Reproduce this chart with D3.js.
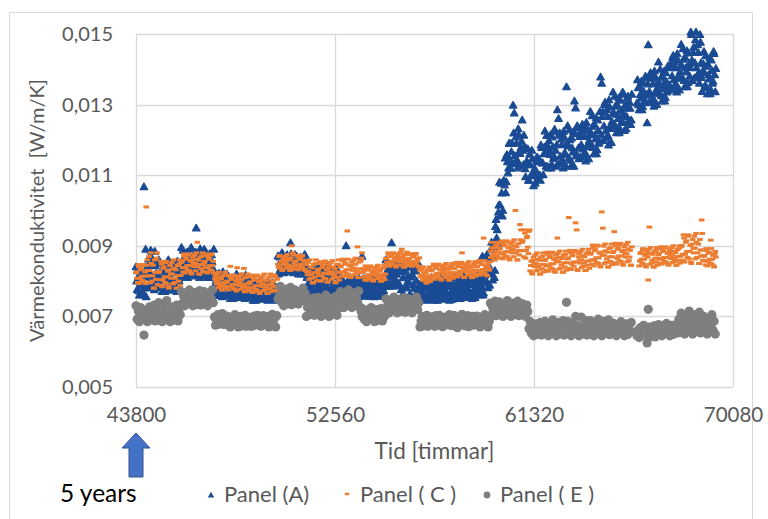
<!DOCTYPE html>
<html><head><meta charset="utf-8">
<script src="https://cdn.jsdelivr.net/npm/d3@7"></script>
<style>
html,body{margin:0;padding:0;background:#fff;}
svg text{font-family:Lato,"Open Sans",sans-serif;}
</style></head>
<body><svg id="c" width="768" height="519"></svg>
<script>
// Time axis: readings every 50 hours starting at 43800 h (each row = 1000 h).
// The "..._B" arrays hold the readings taken 25 h after those of the main arrays.
const startHour = 43800;
const stepHours = 50;
const offsetB = 25;
const xTicks = [43800, 52560, 61320, 70080];
const yTicks = [0.005, 0.007, 0.009, 0.011, 0.013, 0.015];
const seriesNames = ["Panel (A)", "Panel ( C )", "Panel ( E )"];

// thermal conductivity values in 10^-5 W/m/K
const panelA = [
840,776,812,760,796,828,768,1067,812,755,781,862,825,887,794,850,775,843,805,817,
860,788,828,770,810,846,779,819,797,855,774,833,806,851,783,824,770,842,801,815,
895,827,865,810,848,882,818,857,835,891,814,869,844,950,823,861,810,878,840,852,
890,826,862,810,846,878,818,854,834,826,759,807,785,822,766,800,755,815,781,792,
820,764,795,750,781,809,757,788,771,816,753,799,778,813,760,792,750,806,774,785,
800,756,781,745,770,792,750,775,761,797,748,783,767,794,753,778,745,789,764,772,
795,755,777,745,767,871,826,853,838,877,823,862,844,874,829,856,908,868,841,850,
875,831,856,820,845,867,825,850,836,872,769,817,795,832,776,810,765,825,791,802,
838,782,811,767,801,826,770,808,785,834,771,814,797,830,774,812,767,822,793,800,
810,766,791,755,780,900,760,785,771,807,758,793,777,804,763,788,755,799,774,870,
807,768,789,757,783,800,758,787,769,810,755,795,775,802,766,786,757,797,772,785,
860,800,834,785,819,908,792,826,807,856,789,837,786,843,757,809,740,832,780,797,
850,762,811,740,789,833,751,800,773,844,748,787,769,799,754,781,745,793,766,775,
810,758,787,745,774,800,751,781,764,807,748,790,771,803,755,784,745,797,768,777,
815,763,792,750,779,805,756,786,769,812,753,795,776,808,760,789,750,802,773,782,
820,772,799,760,787,870,766,816,802,875,781,862,829,910,803,870,830,974,945,995,
1080,986,1049,1000,1084,1148,1081,1138,1120,1190,1119,1190,1298,1276,1138,1190,1120,1214,1161,1178,
1256,1129,1178,1095,1140,1174,1085,1129,1098,1146,1070,1119,1103,1151,1092,1140,1085,1178,1135,1160,
1225,1125,1185,1120,1170,1214,1131,1180,1153,1224,1125,1285,1260,1219,1136,1186,1120,1208,1158,1350,
1240,1148,1200,1125,1177,1223,1310,1290,1160,1234,1146,1221,1186,1244,1157,1209,1140,1232,1180,1198,
1280,1184,1238,1160,1214,1262,1172,1226,1196,1378,1360,1279,1239,1306,1205,1266,1185,1293,1232,1252,
1335,1243,1295,1220,1272,1318,1231,1283,1254,1329,1226,1300,1266,1323,1250,1289,1256,null,null,null,
null,1304,1347,1285,1328,1366,1294,1337,1313,1375,1248,1469,1337,1390,1311,1358,1295,1379,1332,1347,
1420,1330,1375,1310,1355,1395,1320,1365,1340,1405,1341,1416,1381,1439,1352,1404,1335,1427,1375,1393,
1470,1374,1428,1350,1404,1452,1362,1416,1404,1498,1367,1462,1418,1505,1382,1447,1360,1476,1376,1395,
1450,1354,1408,1330,1384,1432,1342,1396,1366,1444,1336];

const panelA_B = [
800,832,772,816,788,760,824,780,890,827,844,787,873,810,861,798,884,821,781,850,
815,851,784,833,802,770,842,793,860,811,824,779,847,797,838,788,856,806,775,829,
852,887,823,870,840,810,878,831,895,848,861,818,882,836,874,827,891,844,814,865,
850,882,822,866,838,810,874,830,890,789,800,763,819,778,811,770,826,785,759,804,
785,813,761,799,775,750,806,768,820,782,792,757,810,771,803,764,817,778,754,796,
772,795,753,784,764,745,789,759,800,770,778,751,792,762,786,756,797,767,748,781,
770,790,753,780,763,820,868,835,880,847,856,826,871,838,865,832,877,844,823,859,
848,870,828,859,839,820,864,834,875,845,810,773,829,788,821,780,836,795,769,814,
803,833,776,818,791,765,825,784,840,799,810,773,829,788,821,780,836,795,769,814,
783,805,763,794,774,755,799,769,810,780,788,761,802,772,796,766,807,777,758,791,
781,807,761,792,776,757,801,767,808,782,786,759,804,770,798,764,809,775,756,793,
823,853,796,838,811,785,845,804,860,819,830,793,838,775,826,763,849,786,746,815,
795,839,757,817,779,740,828,768,850,790,781,751,796,763,790,757,802,769,748,784,
778,804,755,791,768,745,797,761,810,774,784,752,800,765,794,758,807,771,748,787,
783,809,760,796,773,750,802,766,815,779,789,757,805,770,799,763,812,776,753,792,
790,814,769,802,781,760,808,794,865,822,844,788,890,820,896,810,954,922,907,1015,
1015,1077,984,1084,1072,1050,1158,1106,1190,1143,1166,1132,1219,1155,1208,1143,1231,1167,1126,1196,
1170,1213,1118,1176,1129,1085,1159,1098,1170,1104,1108,1077,1138,1101,1147,1100,1185,1134,1101,1179,
1162,1212,1124,1197,1158,1120,1208,1147,1230,1170,1186,1131,1213,1153,1202,1142,1224,1164,1125,1191,
1182,1228,1142,1205,1165,1125,1217,1154,1240,1177,1209,1151,1238,1174,1226,1163,1249,1186,1146,1215,
1220,1268,1178,1244,1202,1160,1256,1190,1280,1214,1266,1198,1300,1225,1286,1212,1313,1239,1192,1273,
1277,1323,1237,1300,1260,1220,1312,1249,1335,1272,1289,1231,1318,1254,1306,1243,1329,null,null,null,
null,1370,1299,1351,1318,1285,1361,1309,1380,1328,1358,1305,1384,1326,1374,1316,1395,1337,1300,1363,
1360,1400,1325,1380,1345,1310,1390,1335,1410,1355,1404,1346,1433,1370,1421,1358,1444,1381,1341,1410,
1410,1458,1368,1434,1392,1350,1446,1380,1505,1425,1447,1375,1483,1404,1469,1389,1498,1418,1337,1415,
1390,1438,1348,1414,1372,1330,1426,1360,1450,1384,1402];

const panelC = [
823,808,847,793,832,814,844,799,826,1010,860,815,830,880,800,845,780,825,865,790,
824,804,856,784,836,812,852,792,828,780,844,808,820,860,796,832,780,816,848,788,
853,838,877,823,862,844,874,829,856,820,868,841,850,880,910,859,820,847,871,826,
853,838,877,823,862,844,874,829,856,775,815,792,800,825,785,807,775,797,817,780,
797,785,817,842,805,790,815,777,800,838,810,787,795,820,780,836,770,792,812,775,
795,781,817,768,803,787,814,773,798,765,809,784,792,820,776,801,765,790,812,770,
797,785,817,772,805,848,870,837,857,830,866,846,852,875,839,859,830,900,880,834,
855,843,873,832,861,848,870,837,857,830,847,818,827,860,808,837,795,824,850,801,
829,816,855,800,838,823,851,807,832,797,845,820,825,858,810,835,797,826,848,803,
840,826,862,813,848,832,942,818,843,810,854,829,837,865,821,897,810,835,857,880,
825,813,843,802,831,818,840,807,827,800,836,816,822,845,809,829,800,820,838,804,
863,853,880,842,869,857,878,846,865,840,874,855,861,882,890,867,840,859,876,844,
862,852,878,842,868,856,876,846,864,840,831,811,817,840,804,824,795,815,833,799,
829,817,848,805,836,822,845,810,831,803,841,819,826,850,812,833,803,824,843,808,
835,823,853,812,841,828,850,880,837,810,846,826,832,855,819,839,810,830,848,814,
840,829,858,817,847,833,922,822,842,815,851,831,885,910,870,893,860,883,903,865,
891,877,914,863,900,883,911,869,894,860,906,880,889,917,1000,897,860,886,960,945,
910,887,945,865,923,896,941,829,856,820,868,841,850,880,832,859,820,847,871,826,
858,843,882,828,867,849,879,834,861,825,873,922,855,885,837,864,825,852,876,831,
863,980,887,833,872,854,884,965,945,830,878,851,860,890,842,869,830,857,881,836,
876,860,902,843,886,866,899,850,879,840,996,950,873,905,853,882,840,869,895,847,
881,940,907,848,890,871,903,855,884,845,897,868,877,910,858,887,845,null,null,null,
null,null,null,843,878,862,889,848,873,840,884,803,953,895,851,876,840,865,887,845,
875,862,897,848,884,867,895,853,878,845,889,864,873,900,856,881,845,870,892,851,
897,876,931,854,910,884,927,863,901,850,918,880,893,935,867,905,850,888,973,859,
870,857,892,843,879,862,916,848,873,840,884];

const panelC_B = [
826,796,841,808,835,802,847,814,793,845,830,870,795,850,815,780,860,805,880,825,
828,788,848,804,840,796,856,812,784,832,820,852,792,836,808,780,844,800,860,816,
856,826,871,838,865,832,877,844,823,859,850,874,829,862,841,820,868,835,880,847,
856,826,871,838,865,832,877,844,823,807,800,820,782,810,792,775,815,787,825,797,
800,775,812,785,807,780,817,790,772,802,795,815,777,805,787,770,810,782,820,792,
798,770,812,781,806,776,817,787,768,801,792,814,773,803,784,765,809,779,820,790,
800,775,812,785,807,839,873,848,832,859,852,870,837,861,846,830,866,841,875,850,
857,834,868,843,864,839,873,848,832,859,827,853,805,840,818,795,847,811,860,824,
834,801,850,815,844,808,857,821,798,837,827,853,805,840,818,795,847,811,860,824,
843,815,857,826,851,821,862,832,813,846,837,859,818,848,829,810,854,824,865,835,
827,804,838,813,834,809,843,818,802,829,822,840,807,831,816,800,836,811,845,820,
865,844,876,853,871,848,880,857,842,867,861,878,846,869,855,840,874,850,882,859,
864,844,874,852,870,848,878,856,842,866,817,835,802,826,811,795,831,806,840,815,
831,808,843,817,838,812,848,822,805,834,826,845,810,836,819,803,841,815,850,824,
837,814,848,823,844,819,853,828,812,839,832,850,817,841,826,810,846,821,855,830,
842,819,853,828,849,824,858,833,817,844,837,855,867,895,877,860,900,872,910,882,
894,866,908,877,903,871,914,883,863,897,888,911,869,900,880,860,906,874,917,886,
914,869,936,887,927,878,945,844,823,859,850,874,829,862,841,820,868,835,880,847,
861,831,876,843,870,837,882,849,828,864,855,879,834,867,846,825,873,840,885,852,
866,836,881,848,875,842,887,854,833,869,860,884,839,872,851,830,878,845,890,857,
879,847,895,860,889,853,902,866,843,882,873,899,850,886,863,840,892,856,905,869,
884,852,900,865,894,858,907,871,848,887,878,904,855,891,868,845,897,null,null,null,
null,null,null,857,881,851,892,862,843,876,868,890,848,879,859,840,884,854,895,865,
878,851,892,862,886,856,897,867,848,881,873,895,853,884,864,845,889,859,900,870,
901,859,922,876,914,867,931,884,854,905,893,927,863,910,880,850,918,871,935,888,
873,846,887,857,881,851,892,862,843,876,868];

const panelE = [
730,692,715,685,725,702,710,647,695,717,685,707,727,690,712,700,732,687,720,705,
739,694,721,685,733,706,715,745,697,717,685,707,727,690,712,700,732,687,720,705,
770,737,757,730,766,746,752,775,739,759,730,750,768,734,755,743,773,732,761,748,
770,737,757,730,766,746,752,775,739,698,675,691,705,678,694,685,708,677,699,689,
701,675,691,670,698,682,687,705,677,693,670,686,700,673,689,680,703,672,694,684,
697,672,694,673,701,680,690,703,675,688,672,684,702,676,686,682,700,670,691,687,
706,676,694,670,702,749,757,785,741,766,730,755,777,735,760,746,782,733,768,752,
775,742,762,735,771,751,757,780,744,764,700,725,747,705,730,716,752,703,738,722,
754,709,736,700,748,721,730,760,712,739,700,727,751,706,733,718,757,703,742,724,
770,732,755,725,765,742,750,775,735,757,725,747,767,730,752,740,772,727,715,700,
721,691,709,685,717,699,705,725,693,711,685,703,719,689,707,697,723,687,713,701,
750,717,737,710,746,726,732,755,719,739,710,730,748,714,735,723,753,712,741,728,
750,717,737,710,746,726,732,755,719,739,670,686,700,673,689,680,703,672,694,684,
699,677,688,672,702,684,690,703,674,695,671,683,698,676,692,678,705,674,690,681,
703,673,694,668,696,685,684,706,679,690,673,688,702,671,687,683,700,675,697,680,
701,675,691,670,698,682,687,705,677,693,670,686,738,705,725,713,743,702,731,718,
741,707,727,700,736,716,723,745,709,729,700,720,738,705,725,714,743,702,732,718,
736,706,724,700,732,714,665,685,653,671,645,663,679,649,667,657,683,647,673,661,
686,652,672,645,681,661,668,690,654,674,645,665,683,650,670,659,688,647,677,740,
686,652,672,645,681,661,668,700,654,674,645,665,698,650,670,659,688,647,677,663,
688,650,675,645,683,660,670,692,655,676,645,667,686,651,672,658,690,648,679,662,
681,651,669,645,677,659,665,685,653,671,645,663,679,649,667,657,683,null,null,null,
null,645,661,640,668,652,657,675,647,663,625,720,670,643,659,650,673,642,664,654,
677,650,666,645,673,657,663,680,652,668,645,661,675,649,664,656,678,653,692,674,
709,660,689,650,702,673,683,715,663,692,650,679,705,657,686,670,712,653,696,676,
700,658,683,650,694,669,678,705,661,686,650];

const colors = {A:"#1a4b94", C:"#ed7d31", E:"#7f7f7f"};

const svg = d3.select("#c");
const W = 768, H = 519;
const m = {left:136, right:35, top:34, bottom:132};
const x = d3.scaleLinear().domain([43800, 70080]).range([m.left, W - m.right]);
const y = d3.scaleLinear().domain([0.005, 0.015]).range([H - m.bottom, m.top]);
const loc = d3.formatLocale({decimal:",", thousands:"", grouping:[3], currency:["",""]});
const fy = loc.format(".3f");

// outer chart border
svg.append("rect").attr("x",9.5).attr("y",12.5).attr("width",743).attr("height",520)
  .attr("fill","none").attr("stroke","#d9d9d9");

// grid
const g = svg.append("g");
g.selectAll("line.h").data(yTicks).join("line")
  .attr("x1",x(43800)).attr("x2",x(70080)).attr("y1",d=>Math.round(y(d))+0.5).attr("y2",d=>Math.round(y(d))+0.5)
  .attr("stroke","#d9d9d9").attr("stroke-width",1.3);
g.selectAll("line.v").data(xTicks).join("line")
  .attr("y1",y(0.005)).attr("y2",y(0.015)).attr("x1",d=>Math.round(x(d))+0.5).attr("x2",d=>Math.round(x(d))+0.5)
  .attr("stroke","#d9d9d9").attr("stroke-width",1.3);

// axes labels
const yAx = svg.append("g").attr("transform",`translate(${x(43800)-23},0)`)
  .call(d3.axisLeft(y).tickValues(yTicks).tickFormat(fy).tickSize(0).tickPadding(0));
yAx.select(".domain").remove();
yAx.selectAll("text").attr("fill","#595959").style("font-size","20px");

const xAx = svg.append("g").attr("transform",`translate(0,${y(0.005)+20})`)
  .call(d3.axisBottom(x).tickValues(xTicks).tickFormat(d3.format("d")).tickSize(0).tickPadding(0));
xAx.select(".domain").remove();
xAx.selectAll("text").attr("fill","#595959").style("font-size","20.5px");

svg.append("text").attr("x",(x(43800)+x(70080))/2).attr("y",459).attr("text-anchor","middle")
  .attr("fill","#595959").style("font-size","22.5px").text("Tid [timmar]");
svg.append("text").attr("transform",`translate(44,${(y(0.005)+y(0.015))/2}) rotate(-90)`)
  .attr("text-anchor","middle").attr("fill","#595959").style("font-size","20px").style("white-space","pre")
  .text("Värmekonduktivitet  [W/m/K]");

// data
const toPts = (arr, off) => arr.map((v,i)=>({h:startHour+off+i*stepHours, v}))
  .filter(d=>d.v!==null).map(d=>({h:d.h, v:d.v/1e5}));
const ptsA = toPts(panelA,0).concat(toPts(panelA_B,offsetB));
const ptsC = toPts(panelC,0).concat(toPts(panelC_B,offsetB));
const ptsE = toPts(panelE,0);
const tri = "M0,-3.8L3.7,2.7L-3.7,2.7Z";
const plot = svg.append("g");
plot.selectAll("path.a").data(ptsA).join("path")
  .attr("d",tri).attr("transform",d=>`translate(${x(d.h)},${y(d.v)})`)
  .attr("fill",colors.A).attr("stroke",colors.A).attr("stroke-width",1.3).attr("stroke-linejoin","round");
plot.selectAll("rect.c").data(ptsC).join("rect")
  .attr("x",d=>x(d.h)-2.8).attr("y",d=>y(d.v)-1.5).attr("width",5.6).attr("height",3.0).attr("fill",colors.C);
plot.selectAll("circle.e").data(ptsE).join("circle")
  .attr("cx",d=>x(d.h)).attr("cy",d=>y(d.v)).attr("r",4.6).attr("fill",colors.E);

// annotation arrow at 5 years
const ax0 = x(43800);
svg.append("path")
  .attr("d",`M${ax0},433 L${ax0+14},448 L${ax0+7},448 L${ax0+7},477 L${ax0-7},477 L${ax0-7},448 L${ax0-14},448 Z`)
  .attr("fill","#4472c4").attr("stroke","#2f528f").attr("stroke-width",1);
svg.append("text").attr("x",60).attr("y",502).attr("fill","#000").style("font-size","24.5px").text("5 years");

// legend
const lg = svg.append("g");
const lx = [211, 347, 487];
lg.append("path").attr("d","M0,-3.3L3.2,2.4L-3.2,2.4Z").attr("transform",`translate(${lx[0]},495)`).attr("fill",colors.A);
lg.append("rect").attr("x",lx[1]-2.2).attr("y",494-1.3).attr("width",4.4).attr("height",2.6).attr("fill",colors.C);
lg.append("circle").attr("cx",lx[2]).attr("cy",495).attr("r",3.4).attr("fill",colors.E);
lg.selectAll("text").data(seriesNames).join("text")
  .attr("x",(d,i)=>lx[i]+13).attr("y",502).attr("fill","#595959").style("font-size","22px").text(d=>d);
</script></body></html>
